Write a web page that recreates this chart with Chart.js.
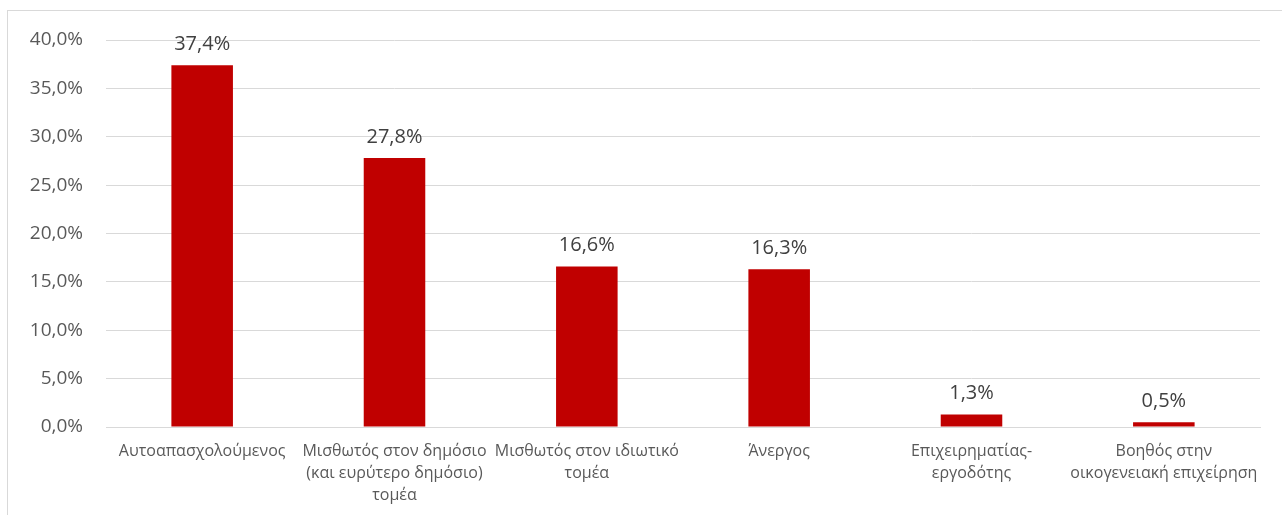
<!DOCTYPE html>
<html lang="el">
<head>
    <meta charset="UTF-8">
    <title>Επαγγελματική κατάσταση</title>
    <script src="https://cdn.jsdelivr.net/npm/chart.js"></script>
    <style>
        html, body { margin: 0; padding: 0; background: #fff; overflow: hidden; }
        #frame {
            position: absolute; left: 7px; top: 10px; right: 0; bottom: 0;
            border-left: 1px solid #d9d9d9; border-top: 1px solid #d9d9d9;
        }
        #wrap { position: absolute; left: 0; top: 0; width: 1282px; height: 515px; }
    </style>
</head>
<body>
    <div id="frame"></div>
    <div id="wrap"><canvas id="chart" width="1282" height="515"></canvas></div>

    <script>
        // Categories and values (percent)
        const categories = [
            ['Αυτοαπασχολούμενος'],
            ['Μισθωτός στον δημόσιο', '(και ευρύτερο δημόσιο)', 'τομέα'],
            ['Μισθωτός στον ιδιωτικό', 'τομέα'],
            ['Άνεργος'],
            ['Επιχειρηματίας-', 'εργοδότης'],
            ['Βοηθός στην', 'οικογενειακή επιχείρηση']
        ];
        const shares = [37.4, 27.8, 16.6, 16.3, 1.3, 0.5];
        const yTicks = [0, 5, 10, 15, 20, 25, 30, 35, 40];

        const fmt = v => v.toFixed(1).replace('.', ',') + '%';

        // simple value labels above bars
        const valueLabels = {
            id: 'valueLabels',
            afterDatasetsDraw(chart) {
                const ctx = chart.ctx;
                ctx.save();
                ctx.font = '20px "Open Sans"';
                ctx.fillStyle = '#404040';
                ctx.textAlign = 'center';
                ctx.textBaseline = 'bottom';
                chart.getDatasetMeta(0).data.forEach((bar, i) => {
                    ctx.fillText(fmt(shares[i]), bar.x, bar.y - 11);
                });
                ctx.restore();
            }
        };

        new Chart(document.getElementById('chart'), {
            type: 'bar',
            data: {
                labels: categories,
                datasets: [{
                    data: shares,
                    backgroundColor: '#c00000',
                    categoryPercentage: 1,
                    barPercentage: 0.32
                }]
            },
            options: {
                responsive: false,
                animation: false,
                devicePixelRatio: 1,
                layout: { padding: { top: 40, right: 22, left: 0, bottom: 0 } },
                plugins: { legend: { display: false }, tooltip: { enabled: false } },
                scales: {
                    x: {
                        grid: { display: false, drawTicks: false },
                        border: { color: '#d9d9d9', width: 1 },
                        ticks: {
                            color: '#595959',
                            font: { family: '"Open Sans"', size: 16, lineHeight: 1.38 },
                            padding: 13,
                            maxRotation: 0,
                            autoSkip: false
                        },
                        afterFit: s => { s.height = 88; }
                    },
                    y: {
                        min: 0,
                        max: 40,
                        afterBuildTicks: s => { s.ticks = yTicks.map(v => ({ value: v })); },
                        grid: { color: '#d9d9d9', drawTicks: false },
                        border: { display: false },
                        ticks: {
                            color: '#595959',
                            font: { family: '"Open Sans"', size: 19 },
                            padding: 23,
                            callback: v => fmt(v)
                        },
                        afterFit: s => { s.width = 106; }
                    }
                }
            },
            plugins: [valueLabels]
        });
    </script>
</body>
</html>
